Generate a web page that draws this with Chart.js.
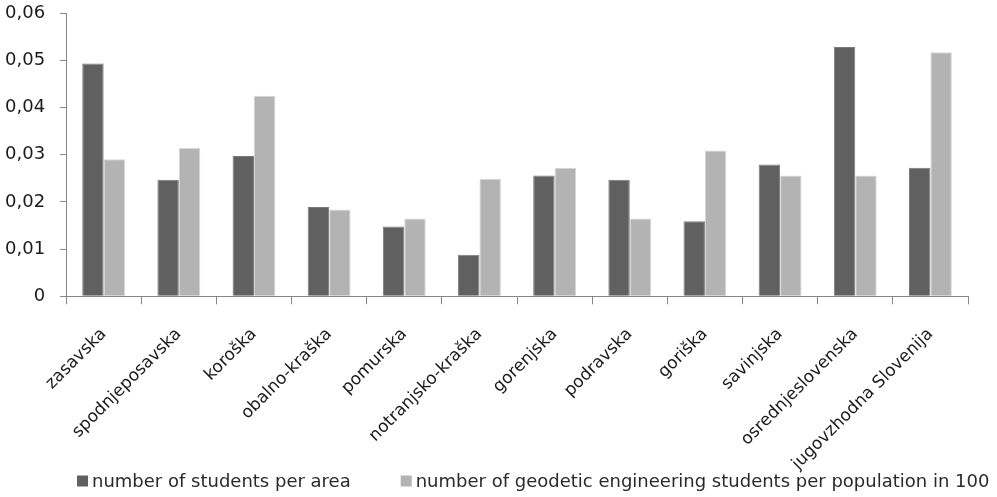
<!DOCTYPE html>
<html>
<head>
<meta charset="utf-8">
<script src="https://cdn.jsdelivr.net/npm/chart.js@4/dist/chart.umd.min.js"></script>
<style>
  html, body { margin: 0; padding: 0; background: #fff; }
  #wrap { width: 997px; height: 497px; }
</style>
</head>
<body>
<div id="wrap"><canvas id="c"></canvas></div>
<script>
// Slovenian statistical regions
const regions = [
  'zasavska', 'spodnjeposavska', 'koroška', 'obalno-kraška', 'pomurska',
  'notranjsko-kraška', 'gorenjska', 'podravska', 'goriška', 'savinjska',
  'osrednjeslovenska', 'jugovzhodna Slovenija'
];

// number of students per area
const studentsPerArea = [
  0.0493, 0.0247, 0.0297, 0.0189, 0.0148, 0.0088,
  0.0256, 0.0247, 0.0159, 0.0279, 0.0528, 0.0272
];

// number of geodetic engineering students per population
const geodeticPerPopulation = [
  0.0290, 0.0314, 0.0425, 0.0184, 0.0165, 0.0249,
  0.0272, 0.0165, 0.0309, 0.0256, 0.0256, 0.0517
];

const seriesNames = [
  'number of students per area',
  'number of geodetic engineering students per population in 100'
];

const yTicks = [0, 0.01, 0.02, 0.03, 0.04, 0.05, 0.06];

const FONT = '"DejaVu Sans", sans-serif';
const TEXT = '#1a1a1a';
const AXIS = '#868686';

// single-row legend along the bottom edge, built from the datasets
const bottomLegend = {
  id: 'bottomLegend',
  afterDraw(chart, args, opts) {
    const ctx = chart.ctx;
    ctx.save();
    ctx.font = `${opts.size}px ${FONT}`;
    ctx.textBaseline = 'middle';
    ctx.textAlign = 'left';
    let x = opts.x;
    const y = opts.y;
    chart.data.datasets.forEach((ds) => {
      ctx.fillStyle = ds.backgroundColor;
      ctx.fillRect(x, y - opts.box / 2, opts.box, opts.box);
      x += opts.box + opts.textGap;
      ctx.fillStyle = opts.color;
      ctx.fillText(ds.label, x, y + 1);
      x += ctx.measureText(ds.label).width + opts.itemGap;
    });
    ctx.restore();
  }
};

new Chart(document.getElementById('c'), {
  type: 'bar',
  data: {
    labels: regions,
    datasets: [
      {
        label: seriesNames[0],
        data: studentsPerArea,
        backgroundColor: '#606060',
        borderColor: '#7a7a7a',
        borderWidth: 1,
        categoryPercentage: 0.57,
        barPercentage: 1.0
      },
      {
        label: seriesNames[1],
        data: geodeticPerPopulation,
        backgroundColor: '#b3b3b3',
        borderColor: '#d6d6d6',
        borderWidth: 1,
        categoryPercentage: 0.57,
        barPercentage: 1.0
      }
    ]
  },
  plugins: [bottomLegend],
  options: {
    responsive: true,
    maintainAspectRatio: false,
    animation: false,
    layout: { padding: { left: -10, right: 29, top: 13, bottom: 3 } },
    plugins: {
      tooltip: { enabled: false },
      legend: { display: false },
      bottomLegend: {
        x: 77, y: 481, box: 11, textGap: 4, itemGap: 50,
        size: 18, color: '#2a2a2a'
      }
    },
    scales: {
      x: {
        afterFit(scale) { scale.paddingLeft = 0; scale.paddingRight = 0; },
        grid: {
          display: true,
          drawOnChartArea: false,
          color: AXIS,
          tickLength: 8,
          offset: true
        },
        border: { color: AXIS, width: 1 },
        ticks: {
          color: TEXT,
          font: { family: FONT, size: 17 },
          minRotation: 45,
          maxRotation: 45,
          padding: 20
        }
      },
      y: {
        min: 0,
        max: 0.06,
        afterBuildTicks: (axis) => { axis.ticks = yTicks.map(v => ({ value: v })); },
        afterFit(scale) { scale.paddingTop = 0; scale.paddingBottom = 0; },
        grid: {
          display: true,
          drawOnChartArea: false,
          color: AXIS,
          tickLength: 6
        },
        border: { color: AXIS, width: 1 },
        ticks: {
          color: TEXT,
          font: { family: FONT, size: 18 },
          padding: 15,
          callback: (v) => v === 0 ? '0' : v.toFixed(2).replace('.', ',')
        }
      }
    }
  }
});
</script>
</body>
</html>
